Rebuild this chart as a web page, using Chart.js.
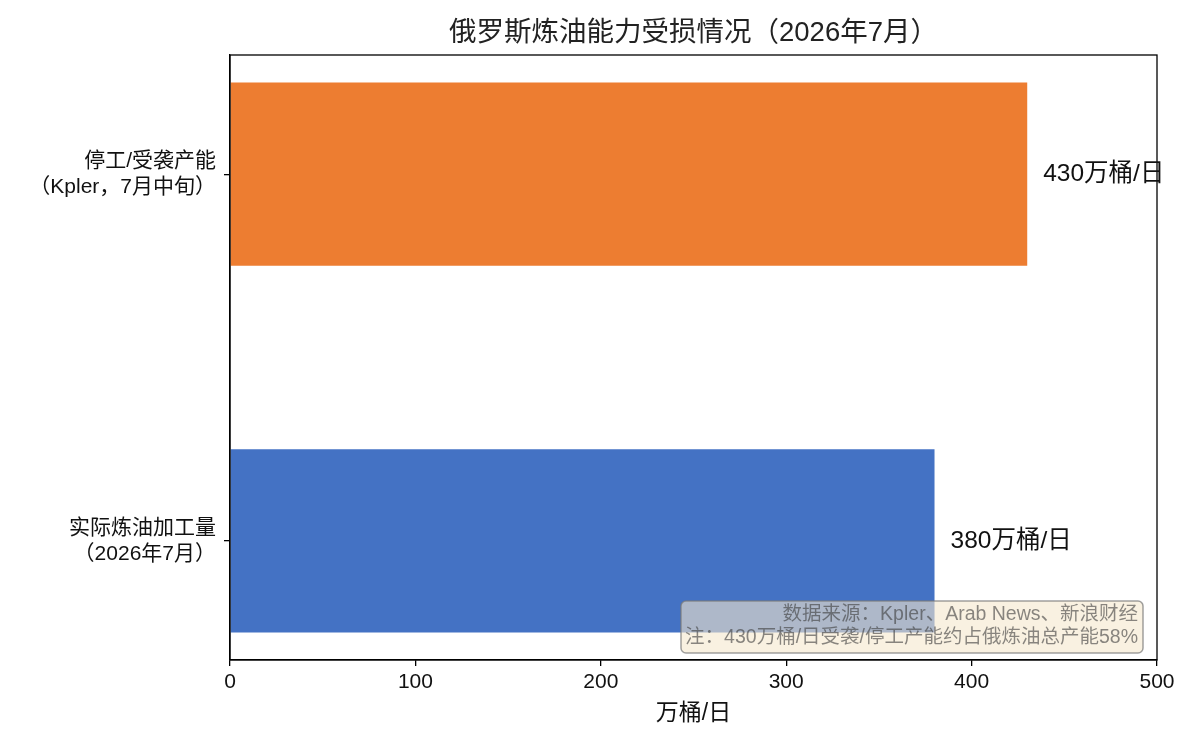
<!DOCTYPE html>
<html>
<head>
<meta charset="utf-8">
<script src="https://cdn.jsdelivr.net/npm/chart.js@4.4.1/dist/chart.umd.min.js"></script>
<style>
  html, body { margin: 0; padding: 0; background: #fff; }
  #wrap { width: 1200px; height: 750px; }
</style>
</head>
<body>
<div id="wrap"><canvas id="refineryChart" width="1200" height="750"></canvas></div>
<script>
// categories from bottom to top, as in the picture
const categories = ['实际炼油加工量\n（2026年7月）', '停工/受袭产能\n（Kpler，7月中旬）'];
const capacityValues = [380, 430];
const barColors = ['#4472C4', '#ED7D31'];
const xTicks = [0, 100, 200, 300, 400, 500];
const valueUnit = '万桶/日';
const chartTitle = '俄罗斯炼油能力受损情况（2026年7月）';
const noteLines = ['数据来源：Kpler、Arab News、新浪财经', '注：430万桶/日受袭/停工产能约占俄炼油总产能58%'];

const FONT = '"Liberation Sans", "Noto Sans CJK SC", sans-serif';

const framePlugin = {
    id: 'frame',
    afterDraw(chart) {
        const { ctx, chartArea: a } = chart;
        ctx.save();
        ctx.strokeStyle = '#000';
        ctx.lineWidth = 1.3;
        ctx.strokeRect(a.left, a.top, a.right - a.left, a.bottom - a.top);

        // title
        ctx.fillStyle = '#222';
        ctx.font = '27.5px ' + FONT;
        ctx.textAlign = 'center';
        ctx.textBaseline = 'middle';
        ctx.fillText(chartTitle, (a.left + a.right) / 2, 33);

        // x axis name
        ctx.font = '23px ' + FONT;
        ctx.fillStyle = '#111';
        ctx.fillText(valueUnit, (a.left + a.right) / 2, 714);

        // value labels
        const meta = chart.getDatasetMeta(0);
        const xs = chart.scales.x;
        ctx.font = '24.5px ' + FONT;
        ctx.textAlign = 'left';
        ctx.fillStyle = '#111';
        meta.data.forEach((bar, i) => {
            ctx.fillText(capacityValues[i] + valueUnit, xs.getPixelForValue(capacityValues[i]) + 16, bar.y);
        });

        // note box
        const boxRight = a.right - 14, boxBottom = a.bottom - 7;
        const boxW = 462, boxH = 52;
        const bx = boxRight - boxW, by = boxBottom - boxH;
        ctx.beginPath();
        ctx.roundRect(bx, by, boxW, boxH, 5);
        ctx.fillStyle = 'rgba(245, 232, 205, 0.6)';
        ctx.fill();
        ctx.strokeStyle = 'rgba(120, 120, 120, 0.7)';
        ctx.lineWidth = 1.5;
        ctx.stroke();
        ctx.font = '19.5px ' + FONT;
        ctx.textAlign = 'right';
        ctx.fillStyle = 'rgba(60, 60, 60, 0.6)';
        ctx.fillText(noteLines[0], boxRight - 5, by + 14);
        ctx.fillText(noteLines[1], boxRight - 5, by + 37);
        ctx.restore();
    }
};

const ctx = document.getElementById('refineryChart').getContext('2d');
new Chart(ctx, {
    type: 'bar',
    data: {
        datasets: [{
            data: capacityValues.map((v, i) => ({ x: v, y: i })),
            backgroundColor: barColors,
            borderWidth: 0,
            barPercentage: 0.5,
            categoryPercentage: 1.0
        }]
    },
    options: {
        indexAxis: 'y',
        responsive: false,
        animation: false,
        layout: { padding: { top: 55, right: 43, left: 0, bottom: 0 } },
        plugins: { legend: { display: false }, tooltip: { enabled: false } },
        scales: {
            x: {
                type: 'linear',
                min: 0,
                max: 500,
                afterBuildTicks(scale) { scale.ticks = xTicks.map(v => ({ value: v })); },
                grid: { display: true, drawOnChartArea: false, drawTicks: true, tickLength: 6, color: '#000', lineWidth: 1.3 },
                border: { display: true, color: '#000', width: 1.3 },
                ticks: { color: '#111', font: { family: FONT, size: 21 }, padding: 4, maxRotation: 0 },
                afterFit(scale) { scale.height = 90; }
            },
            y: {
                type: 'linear',
                offset: false,
                min: -0.325,
                max: 1.325,
                afterBuildTicks(scale) { scale.ticks = categories.map((c, i) => ({ value: i })); },
                grid: { display: true, offset: false, drawOnChartArea: false, drawTicks: true, tickLength: 6, color: '#000', lineWidth: 1.3 },
                border: { display: true, color: '#000', width: 1.3 },
                ticks: {
                    color: '#111',
                    font: { family: FONT, size: 21, lineHeight: 1.25 },
                    padding: 8,
                    callback: (v) => categories[v] ? categories[v].split('\n') : ''
                },
                afterFit(scale) { scale.width = 230; }
            }
        }
    },
    plugins: [framePlugin]
});
</script>
</body>
</html>
